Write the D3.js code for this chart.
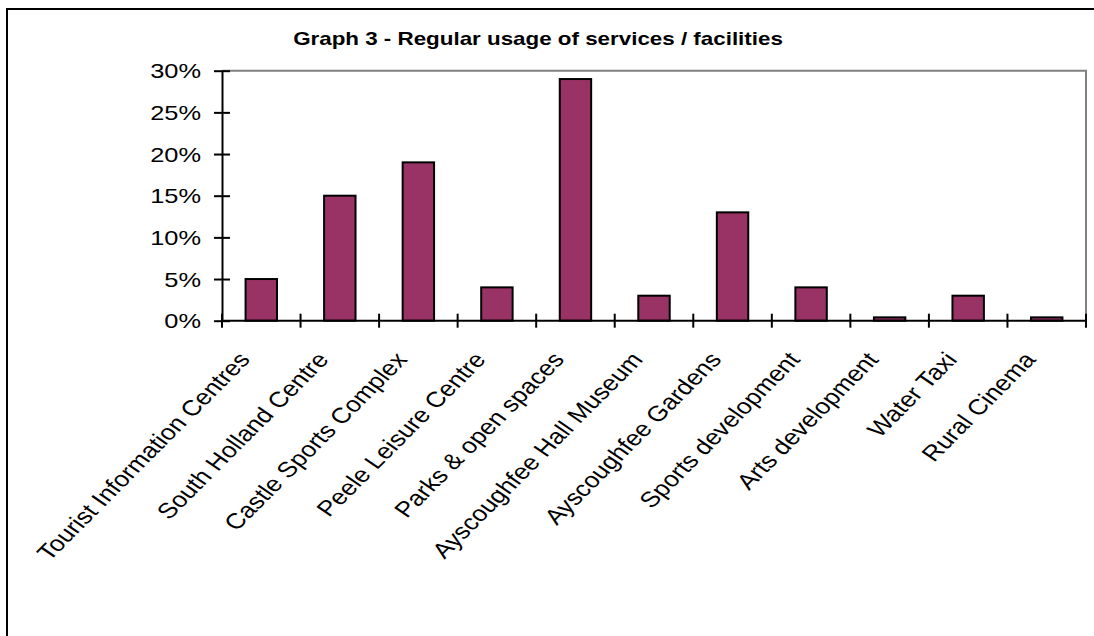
<!DOCTYPE html>
<html>
<head>
<meta charset="utf-8">
<script src="https://cdn.jsdelivr.net/npm/d3@7"></script>
<style>
  html, body { margin: 0; padding: 0; background: #fff; }
  svg { display: block; }
  text { font-family: "Liberation Sans", Arial, sans-serif; fill: #000; }
</style>
</head>
<body>
<svg id="chart" width="1094" height="636"></svg>
<script>
// Share of respondents who regularly use each service / facility (%)
const categories = [
  "Tourist Information Centres",
  "South Holland Centre",
  "Castle Sports Complex",
  "Peele Leisure Centre",
  "Parks & open spaces",
  "Ayscoughfee Hall Museum",
  "Ayscoughfee Gardens",
  "Sports development",
  "Arts development",
  "Water Taxi",
  "Rural Cinema"
];
const usage = [5, 15, 19, 4, 29, 3, 13, 4, 0.4, 3, 0.4];
const yTicks = [0, 5, 10, 15, 20, 25, 30];
const title = "Graph 3 - Regular usage of services / facilities";

const svg = d3.select("#chart");
const plot = { left: 222, right: 1086, top: 70.7, bottom: 320.7 };
const stretch = 1.21;   // wide Arial-style lettering

// Outer chart frame
svg.append("rect")
  .attr("x", 7).attr("y", 9)
  .attr("width", 1300).attr("height", 800)
  .attr("fill", "none").attr("stroke", "#000").attr("stroke-width", 2);

const x = d3.scaleBand()
  .domain(categories)
  .range([plot.left, plot.right])
  .paddingInner(0.6)
  .paddingOuter(0.3);

const y = d3.scaleLinear()
  .domain([0, 30])
  .range([plot.bottom, plot.top]);

// Plot area border (top and right in grey)
svg.append("path")
  .attr("d", `M${plot.left},${plot.top}H${plot.right}V${plot.bottom}`)
  .attr("fill", "none").attr("stroke", "#808080").attr("stroke-width", 2);

// Bars
svg.append("g").selectAll("rect")
  .data(categories)
  .join("rect")
  .attr("x", d => x(d))
  .attr("y", (d, i) => y(usage[i]))
  .attr("width", x.bandwidth())
  .attr("height", (d, i) => y(0) - y(usage[i]))
  .attr("fill", "#993366")
  .attr("stroke", "#000")
  .attr("stroke-width", 2);

// Y axis: line, crossing ticks, percentage labels
const yAxis = svg.append("g")
  .attr("transform", `translate(${plot.left},0)`)
  .call(d3.axisLeft(y).tickValues(yTicks).tickSizeInner(8).tickSizeOuter(0).tickFormat(""));
yAxis.select(".domain").attr("stroke", "#000").attr("stroke-width", 2);
yAxis.selectAll(".tick line").attr("stroke", "#000").attr("stroke-width", 2).attr("x2", -8).attr("x1", 8);

svg.append("g").selectAll("text")
  .data(yTicks)
  .join("text")
  .attr("transform", d => `translate(201,${y(d) + 7.5}) scale(${stretch},1)`)
  .attr("text-anchor", "end")
  .attr("font-size", 21)
  .text(d => d + "%");

// X axis: line and crossing ticks at category boundaries
const step = x.step();
const boundaries = d3.range(categories.length + 1).map(i => plot.left + i * step);
svg.append("line")
  .attr("x1", plot.left).attr("x2", plot.right)
  .attr("y1", plot.bottom).attr("y2", plot.bottom)
  .attr("stroke", "#000").attr("stroke-width", 2);
svg.append("g").selectAll("line")
  .data(boundaries)
  .join("line")
  .attr("x1", d => d).attr("x2", d => d)
  .attr("y1", plot.bottom - 7).attr("y2", plot.bottom + 7)
  .attr("stroke", "#000").attr("stroke-width", 2);

// Slanted category labels (rotated, then widened with the rest of the lettering,
// which puts the baseline on a 45° diagonal)
const labelAngle = Math.atan(stretch) * 180 / Math.PI;
svg.append("g").selectAll("text")
  .data(categories)
  .join("text")
  .attr("transform", d => `translate(${x(d) + x.bandwidth() / 2 - 10},${plot.bottom + 39.5}) scale(${stretch},1) rotate(${-labelAngle})`)
  .attr("text-anchor", "end")
  .attr("font-size", 21.8)
  .text(d => d);

// Title
svg.append("text")
  .attr("transform", `translate(538,45) scale(${stretch},1)`)
  .attr("text-anchor", "middle")
  .attr("font-size", 18.5)
  .attr("font-weight", "bold")
  .text(title);
</script>
</body>
</html>
